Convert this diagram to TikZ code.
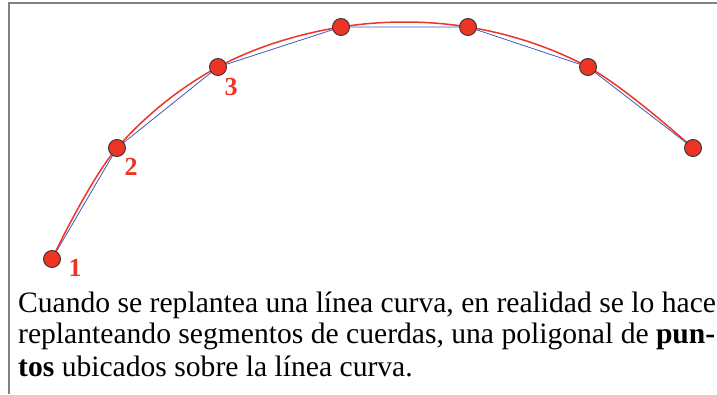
\documentclass[tikz,border=0pt]{standalone}
\usepackage{fontspec}
\setmainfont{Liberation Serif}
\usetikzlibrary{positioning}
\definecolor{dotred}{RGB}{238,53,36}
\definecolor{chordblue}{RGB}{60,90,190}
\definecolor{framegray}{RGB}{130,130,130}

\begin{document}
\begin{tikzpicture}[x=1pt, y=1pt,
		stake/.style = {circle, draw=black!80, fill=dotred, line width=0.9pt, minimum size=17pt, inner sep=0pt},
		num/.style = {text=dotred, font=\fontsize{26}{26}\selectfont\bfseries, inner sep=0pt},
		curve/.style = {draw=dotred, line width=1.5pt},
		chord/.style = {draw=chordblue, line width=0.8pt},
		caption/.style = {anchor=base west, inner sep=0pt, font=\fontsize{29.6}{32}\selectfont},
	]
	\useasboundingbox (0,0) rectangle (717,394);
	\clip (0,0) rectangle (717,394);

	% frame (cut at right and bottom)
	\coordinate (FB) at (9,0);
	\coordinate (FTL) at (9,391);
	\coordinate (FTR) at (717,391);
	\draw[framegray, line width=1.2pt] (FB) -- (FTL) -- (FTR);

	\coordinate (c1) at (52,135);
	\coordinate (c2) at (117,246);
	\coordinate (c3) at (218,327);
	\coordinate (c4) at (341,367);
	\coordinate (c5) at (468,367);
	\coordinate (c6) at (588,327);
	\coordinate (c7) at (693,246);

	\draw[chord] (c1) -- (c2) -- (c3) -- (c4) -- (c5) -- (c6) -- (c7);
	\draw[curve] plot[smooth, tension=0.6] coordinates {(c1) (c2) (c3) (c4) (c5) (c6) (c7)};

	\node[stake] (p1) at (c1) {};
	\node[stake] (p2) at (c2) {};
	\node[stake] (p3) at (c3) {};
	\node[stake] (p4) at (c4) {};
	\node[stake] (p5) at (c5) {};
	\node[stake] (p6) at (c6) {};
	\node[stake] (p7) at (c7) {};

	\node[num] (n1) at (75,126) {1};
	\node[num] (n2) at (131,227) {2};
	\node[num] (n3) at (231,307) {3};

	\node[caption] (l1) at (18,82) {Cuando se replantea una línea curva, en realidad se lo hace};
	\node[caption] (l2) at (18,51) {replanteando segmentos de cuerdas, una poligonal de \textbf{pun-}};
	\node[caption] (l3) at (18,18) {\textbf{tos} ubicados sobre la línea curva.};

\end{tikzpicture}
\end{document}
